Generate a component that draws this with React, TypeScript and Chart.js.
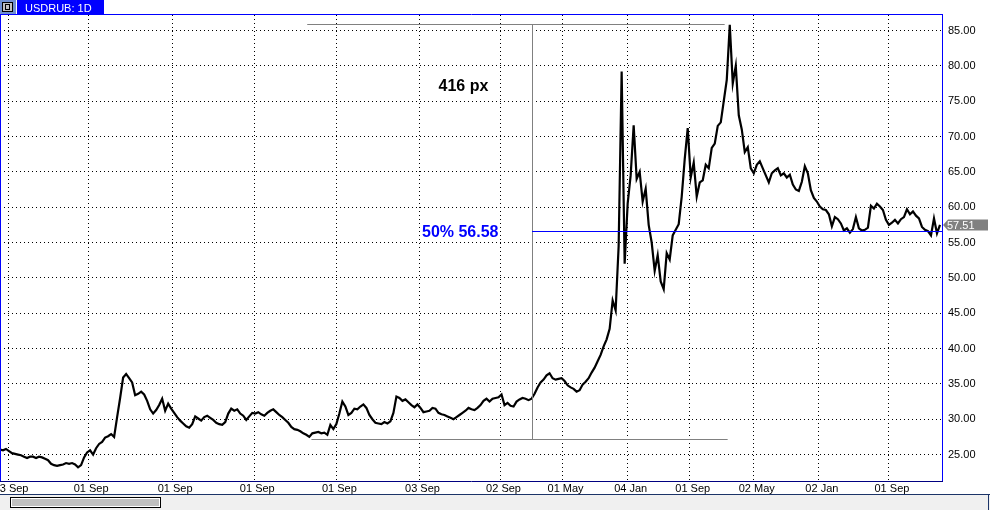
import React, { useEffect, useRef } from 'react';
import { Chart, registerables } from 'chart.js';

Chart.register(...registerables);

// USDRUB daily closes, one sample per ~3 chart pixels (bar-index axis)
const closes: number[] = [
  25.7, 25.6, 25.8, 25.5, 25.2, 25.1, 25.0, 24.9, 24.7, 24.5,
  24.7, 24.7, 24.5, 24.7, 24.6, 24.4, 24.2, 23.7, 23.5, 23.4,
  23.5, 23.6, 23.8, 23.7, 23.8, 23.6, 23.2, 23.5, 24.6, 25.3,
  25.6, 25.0, 25.9, 26.5, 26.8, 27.4, 27.6, 27.9, 27.5, 30.3,
  33.0, 35.9, 36.4, 35.8, 35.2, 33.4, 33.6, 33.9, 33.5, 32.6,
  31.4, 30.8, 31.3, 32.0, 32.9, 31.2, 32.2, 31.5, 30.9, 30.3,
  29.8, 29.4, 29.0, 28.8, 29.3, 30.4, 30.1, 29.8, 30.3, 30.5,
  30.2, 29.9, 29.5, 29.3, 29.2, 29.6, 30.8, 31.5, 31.2, 31.4,
  30.8, 30.5, 29.9, 30.4, 30.9, 30.8, 31.0, 30.7, 30.5, 30.9,
  31.2, 31.4, 31.0, 30.6, 30.3, 29.9, 29.5, 28.9, 28.6, 28.5,
  28.3, 28.0, 27.8, 27.5, 28.0, 28.1, 28.2, 28.0, 28.1, 27.8,
  29.2, 28.6, 29.3, 30.8, 32.5, 31.8, 30.6, 30.9, 31.5, 31.4,
  31.8, 32.1, 31.6, 30.6, 30.0, 29.5, 29.4, 29.3, 29.6, 29.4,
  29.7, 30.9, 33.2, 33.0, 32.6, 32.8, 32.4, 32.0, 31.7, 32.1,
  31.6, 31.0, 31.1, 31.2, 31.6, 31.5, 30.9, 30.7, 30.6, 30.4,
  30.2, 30.0, 30.3, 30.6, 30.9, 31.2, 31.6, 31.4, 31.3, 31.6,
  32.0, 32.6, 32.9, 32.5, 32.9, 33.0, 33.1, 33.5, 32.0, 32.3,
  31.9, 31.8, 32.5, 32.8, 33.0, 32.9, 32.7, 32.9, 33.6, 34.5,
  35.2, 35.6, 36.2, 36.5, 35.8, 35.6, 35.7, 35.8, 35.4, 34.8,
  34.5, 34.3, 33.9, 34.1, 34.9, 35.3, 35.8, 36.6, 37.3, 38.2,
  39.1, 40.3, 41.3, 42.8, 46.8, 45.4, 54.5, 79.2, 52.0, 60.5,
  64.5, 71.6, 64.0, 65.0, 60.8, 62.6, 57.5, 55.0, 51.0, 53.2,
  49.5, 48.4, 53.5, 52.6, 56.0, 56.8, 57.6, 61.5, 66.8, 71.2,
  64.2, 66.3, 61.5, 63.5, 63.8, 66.0, 65.5, 68.4, 69.0, 71.5,
  72.0, 75.0, 78.0, 85.8, 77.5, 80.0, 73.0, 71.0, 67.8, 68.5,
  65.5, 64.8, 66.0, 66.5, 65.5, 64.5, 63.5, 64.8, 65.2, 65.5,
  64.5, 64.8, 64.2, 64.6, 63.2, 62.5, 62.3, 63.6, 65.8, 64.8,
  62.4, 61.3, 60.8, 60.1, 59.7, 59.6, 59.0, 57.3, 58.6, 58.3,
  57.7, 56.7, 57.0, 56.4, 56.9, 58.6, 57.0, 56.7, 56.8, 57.1,
  60.2, 59.8, 60.5, 60.1, 59.6, 58.2, 57.5, 57.8, 58.2, 57.7,
  58.3, 58.6, 59.7, 59.0, 59.4, 58.8, 58.4, 57.2, 56.8, 56.6,
  56.0, 58.4, 56.3, 57.51,
];

const xTickPositions: number[] = [2.67, 29.33, 57.33, 84.67, 112, 139.67, 166.67, 187.33, 209, 229.67, 251, 272.67, 296];
const xTickLabels: string[] = ['03 Sep', '01 Sep', '01 Sep', '01 Sep', '01 Sep', '03 Sep', '02 Sep', '01 May', '04 Jan', '01 Sep', '02 May', '02 Jan', '01 Sep'];
const yTickValues: number[] = [25, 30, 35, 40, 45, 50, 55, 60, 65, 70, 75, 80, 85];

const symbolTitle = 'USDRUB: 1D';
const lastPrice = 57.51;
const measureHigh = 85.93;
const measureLow = 27.23;
const measureMid = 56.58;
const measureHighFrom = 102.3;
const measureHighTo = 241.3;
const measureLowFrom = 103.7;
const measureLowTo = 242.3;
const measureAt = 177;
const measureLabel = '416 px';
const midLabel = '50% 56.58';

const FONT = "'Liberation Sans', Arial, sans-serif";

const decorPlugin: any = {
  id: 'decor',
  afterDatasetsDraw(chart: any) {
    const { ctx, chartArea } = chart;
    const xs = chart.scales.x;
    const ys = chart.scales.y;
    const px = (v: number) => xs.getPixelForValue(v);
    const py = (v: number) => ys.getPixelForValue(v);
    ctx.save();
    ctx.beginPath();
    ctx.rect(chartArea.left, chartArea.top, chartArea.right - chartArea.left, chartArea.bottom - chartArea.top);
    ctx.clip();
    ctx.lineWidth = 1;
    ctx.strokeStyle = '#808080';
    const yh = Math.round(py(measureHigh)) + 0.5;
    const yl = Math.round(py(measureLow)) + 0.5;
    const xm = Math.round(px(measureAt)) + 0.5;
    ctx.beginPath();
    ctx.moveTo(px(measureHighFrom), yh);
    ctx.lineTo(px(measureHighTo), yh);
    ctx.moveTo(px(measureLowFrom), yl);
    ctx.lineTo(px(measureLowTo), yl);
    ctx.moveTo(xm, yh);
    ctx.lineTo(xm, yl);
    ctx.stroke();
    const ymid = Math.round(py(measureMid)) + 0.5;
    ctx.font = `bold 16px ${FONT}`;
    ctx.textBaseline = 'alphabetic';
    ctx.fillStyle = '#000';
    ctx.textAlign = 'left';
    ctx.fillText(measureLabel, xm - 94, yh + 66);
    ctx.fillStyle = '#0000ff';
    ctx.textAlign = 'right';
    ctx.fillText(midLabel, xm - 34, ymid + 5.5);
    ctx.restore();
  },
  afterDraw(chart: any) {
    const { ctx, chartArea, width } = chart;
    const xs = chart.scales.x;
    const ys = chart.scales.y;
    const L = chartArea.left, T = chartArea.top, R = chartArea.right, B = chartArea.bottom;
    ctx.save();
    // 50% level line
    const xm = Math.round(xs.getPixelForValue(measureAt));
    const ymid = Math.round(ys.getPixelForValue(measureMid));
    ctx.fillStyle = '#0000ff';
    ctx.fillRect(xm, ymid, R - xm, 1);

    // frame
    ctx.lineWidth = 1;
    ctx.strokeStyle = '#0000ff';
    ctx.beginPath();
    ctx.moveTo(L + 0.5, T - 0.5);
    ctx.lineTo(R + 0.5, T - 0.5);
    ctx.moveTo(L + 0.5, T - 1);
    ctx.lineTo(L + 0.5, B);
    ctx.moveTo(R + 0.5, T - 1);
    ctx.lineTo(R + 0.5, B);
    ctx.stroke();
    ctx.strokeStyle = '#000080';
    ctx.beginPath();
    ctx.moveTo(L, B + 0.5);
    ctx.lineTo(R + 1, B + 0.5);
    ctx.stroke();

    // title tab
    ctx.fillStyle = '#0000ff';
    ctx.fillRect(17, 0, 87, 14);
    ctx.fillStyle = '#fff';
    ctx.font = `11px ${FONT}`;
    ctx.textAlign = 'left';
    ctx.textBaseline = 'alphabetic';
    ctx.fillText(symbolTitle, 25, 12);
    // small window icon
    ctx.fillStyle = '#6f8fd0';
    ctx.fillRect(0, 0, 16, 14);
    ctx.fillStyle = '#000';
    ctx.fillRect(2, 2, 11, 10);
    ctx.fillStyle = '#c0c0c0';
    ctx.fillRect(3, 3, 9, 8);
    ctx.fillStyle = '#000';
    ctx.fillRect(5, 4, 5, 6);
    ctx.fillStyle = '#c0c0c0';
    ctx.fillRect(6, 5, 3, 4);

    // last price tag
    const yp = Math.round(ys.getPixelForValue(lastPrice));
    ctx.fillStyle = '#808080';
    ctx.beginPath();
    ctx.moveTo(R + 1, yp);
    ctx.lineTo(R + 6, yp - 5.5);
    ctx.lineTo(R + 46, yp - 5.5);
    ctx.lineTo(R + 46, yp + 5.5);
    ctx.lineTo(R + 6, yp + 5.5);
    ctx.closePath();
    ctx.fill();
    ctx.fillStyle = '#fff';
    ctx.font = `11px ${FONT}`;
    ctx.textBaseline = 'middle';
    ctx.fillText(lastPrice.toFixed(2), R + 5, yp + 0.5);

    // bottom scroll bar
    ctx.fillStyle = '#f0f0f0';
    ctx.fillRect(0, 495, width, 15);
    ctx.strokeStyle = '#1c3468';
    ctx.beginPath();
    ctx.moveTo(0, 494.5);
    ctx.lineTo(width, 494.5);
    ctx.moveTo(width - 1.5, 495);
    ctx.lineTo(width - 1.5, 510);
    ctx.stroke();
    ctx.fillStyle = '#000';
    ctx.fillRect(10, 497, 151, 11);
    ctx.fillStyle = '#fff';
    ctx.fillRect(11, 498, 149, 9);
    ctx.fillStyle = '#c0c0c0';
    ctx.fillRect(12, 499, 147, 7);
    ctx.restore();
  },
};

export default function App() {
  const canvasRef = useRef<HTMLCanvasElement | null>(null);

  useEffect(() => {
    document.body.style.margin = '0';
    const canvas = canvasRef.current;
    if (!canvas) return;
    const points = closes.map((v, i) => ({ x: i, y: v }));
    const chart = new Chart(canvas, {
      type: 'line',
      data: {
        datasets: [
          {
            data: points,
            borderColor: '#000',
            borderWidth: 2.2,
            pointRadius: 0,
            tension: 0,
            fill: false,
          },
        ],
      },
      options: {
        animation: false,
        responsive: false,
        maintainAspectRatio: false,
        layout: { padding: { top: 15, left: 0, right: 0, bottom: 0 } },
        plugins: { legend: { display: false }, tooltip: { enabled: false } },
        scales: {
          x: {
            type: 'linear',
            min: 0,
            max: 313.67,
            afterBuildTicks: (scale: any) => {
              scale.ticks = xTickPositions.map((v) => ({ value: v }));
            },
            afterFit: (scale: any) => {
              scale.height = 29;
              scale.paddingLeft = 0;
              scale.paddingRight = 0;
            },
            grid: { color: '#000', lineWidth: 1, drawTicks: false },
            border: { display: false, dash: [1, 3] },
            ticks: {
              autoSkip: false,
              maxRotation: 0,
              padding: 1,
              labelOffset: 3,
              color: '#000',
              font: { family: FONT, size: 11 },
              callback: (_v: any, i: number) => xTickLabels[i] ?? '',
            },
          },
          y: {
            type: 'linear',
            position: 'right',
            min: 21.26,
            max: 87.19,
            afterBuildTicks: (scale: any) => {
              scale.ticks = yTickValues.map((v) => ({ value: v }));
            },
            afterFit: (scale: any) => {
              scale.width = 48;
              scale.paddingTop = 0;
              scale.paddingBottom = 0;
            },
            grid: { color: '#000', lineWidth: 1, drawTicks: false },
            border: { display: false, dash: [1, 3] },
            ticks: {
              padding: 6,
              color: '#000',
              font: { family: FONT, size: 11 },
              callback: (v: any) => Number(v).toFixed(2),
            },
          },
        },
      },
      plugins: [decorPlugin],
    });
    return () => chart.destroy();
  }, []);

  return (
    <div style={{ width: 990, height: 510, position: 'relative', background: '#fff' }}>
      <canvas ref={canvasRef} width={990} height={510} style={{ display: 'block', width: 990, height: 510 }} />
    </div>
  );
}
